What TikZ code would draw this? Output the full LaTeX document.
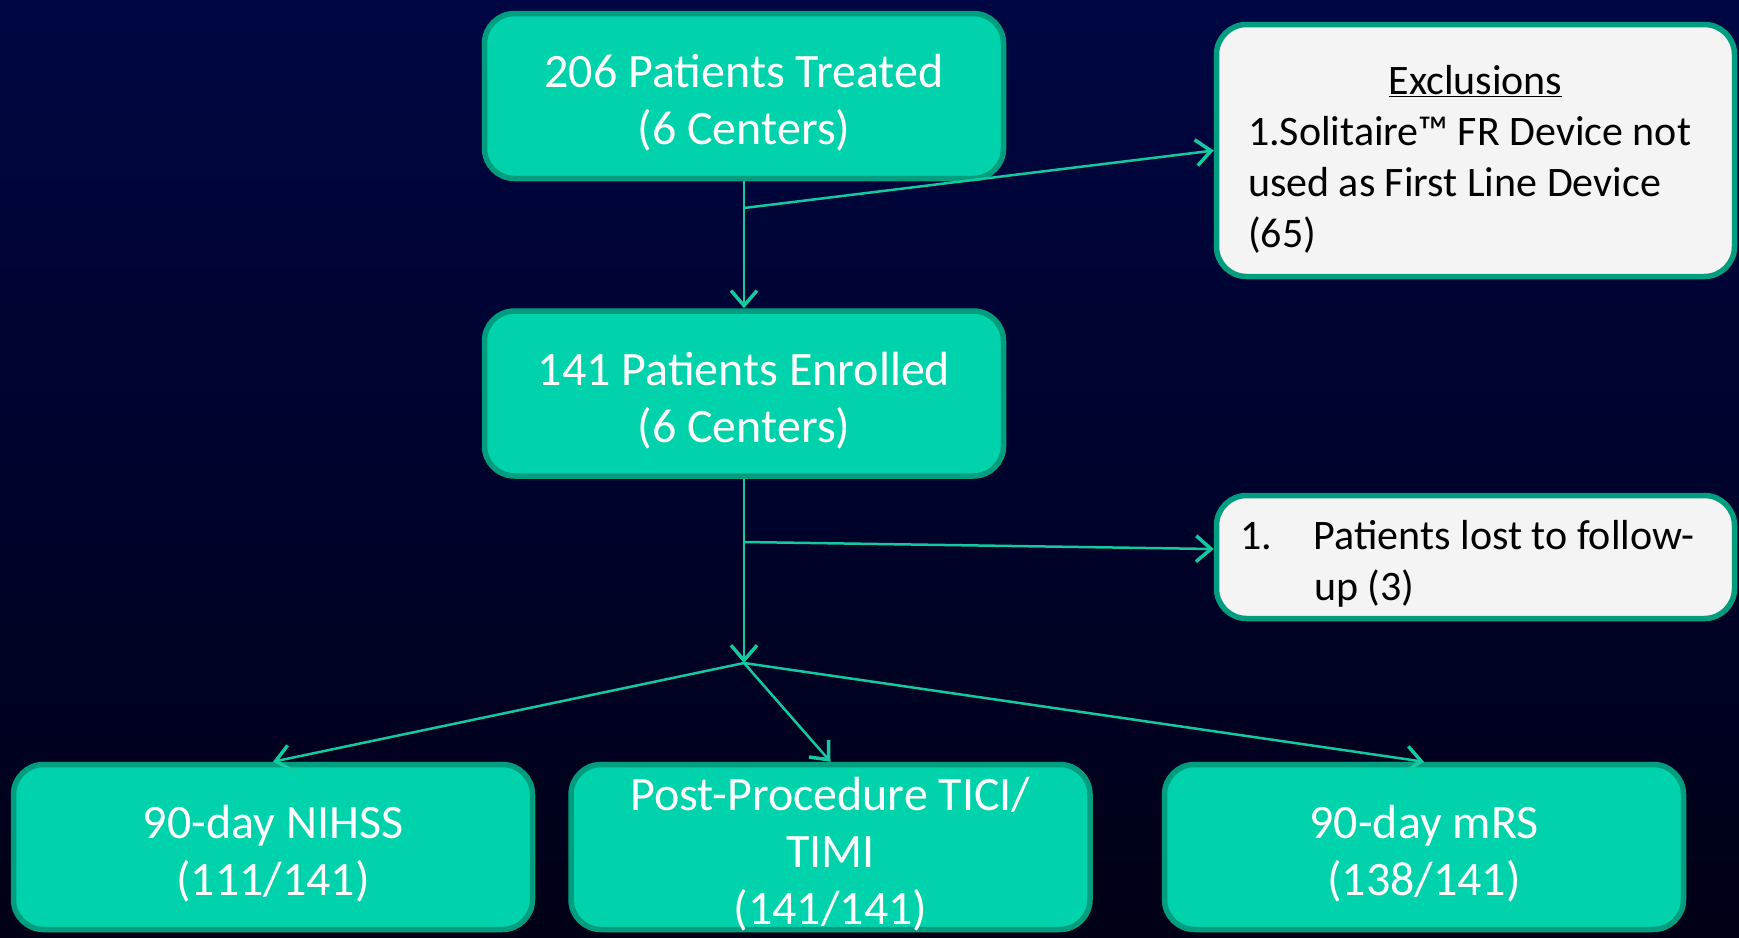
\documentclass[tikz,border=0pt]{standalone}
\usepackage{fontspec}
\setmainfont{Carlito}
\usetikzlibrary{arrows.meta}
\definecolor{bgtop}{RGB}{0,6,66}
\definecolor{bgbot}{RGB}{0,0,22}
\definecolor{boxfill}{RGB}{0,210,172}
\definecolor{boxedge}{RGB}{0,158,126}
\definecolor{linec}{RGB}{20,200,160}
\definecolor{lightfill}{RGB}{244,244,244}
\tikzset{
 tealbox/.style={draw=boxedge, line width=5.5pt, fill=boxfill, rounded corners=30pt,
   minimum width=519pt, minimum height=165pt, inner sep=0pt},
 lightbox/.style={draw=boxedge, line width=5.5pt, fill=lightfill, rounded corners=30pt,
   minimum width=518pt, inner sep=0pt},
 whitetext/.style={inner sep=0pt, text=white, align=center, font=\fontsize{48}{57}\selectfont},
 darktext/.style={inner sep=0pt, text=black, align=center, font=\fontsize{42}{51}\selectfont},
 conn/.style={draw=linec, line width=2.5pt},
 arr/.style={conn, -{Straight Barb[length=15pt,width=26pt,line width=3.5pt]}}
}
\begin{document}
\begin{tikzpicture}[x=1pt,y=-1pt]
\shade[top color=bgtop,bottom color=bgbot] (0,0) rectangle (1739,937);
\useasboundingbox (0,0) rectangle (1739,937);

\node[tealbox] (treated) at (744,96) {};
\node[whitetext] (treatedtxt) at (744,103) {206 Patients Treated\\(6 Centers)};
\node[tealbox] (enrolled) at (744,393.5) {};
\node[whitetext] (enrolledtxt) at (744,400.5) {141 Patients Enrolled\\(6 Centers)};
\node[lightbox, minimum height=252pt] (excl) at (1475.5,150.5) {};
\node[darktext] (excltxt) at (1475.5,159.5)
  {\underline{Exclusions}\\
   \makebox[455pt][l]{1.Solitaire™ FR Device not}\\
   \makebox[455pt][l]{used as First Line Device}\\
   \makebox[455pt][l]{(65)}};
\node[lightbox, minimum height=123pt] (lost) at (1475.5,557) {};
\node[darktext] (losttxt) at (1475.5,564)
  {\makebox[471pt][l]{\makebox[74pt][l]{1.}Patients lost to follow-}\\
   \makebox[471pt][l]{\hspace*{74pt}up (3)}};
\node[tealbox] (nihss) at (273,847) {};
\node[whitetext] (nihsstxt) at (273,854) {90-day NIHSS\\(111/141)};
\node[tealbox] (tici) at (830.5,847) {};
\node[whitetext] (ticitxt) at (830.5,854) {Post-Procedure TICI/\\TIMI\\(141/141)};
\node[tealbox] (mrs) at (1424,847) {};
\node[whitetext] (mrstxt) at (1424,854) {90-day mRS\\(138/141)};

\coordinate (j1) at (744,208);
\coordinate (j2) at (744,542);
\coordinate (split) at (744,663);

\draw[arr] (treated.south) -- (enrolled.north);
\draw[arr] (j1) -- (excl.west);
\draw[conn] (enrolled.south) -- (j2);
\draw[arr] (j2) -- ([yshift=8pt]lost.west);
\draw[arr] (j2) -- (split);
\draw[arr] (split) -- (nihss.north);
\draw[arr] (split) -- (tici.north);
\draw[arr] (split) -- (mrs.north);
\end{tikzpicture}
\end{document}
